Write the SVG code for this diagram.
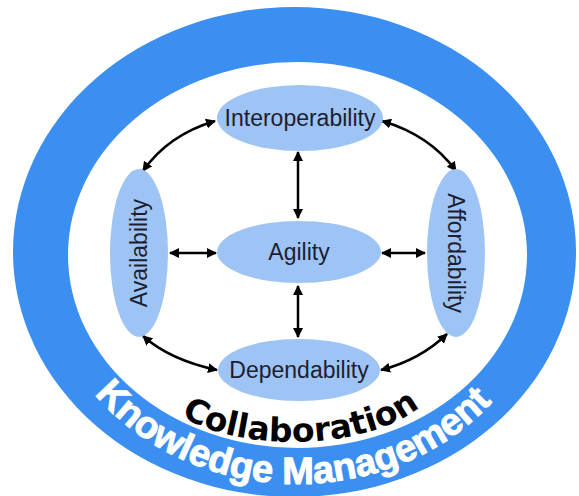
<svg xmlns="http://www.w3.org/2000/svg" width="579" height="496" viewBox="0 0 579 496">
<defs>
<style>
.node{fill:#9dc4f4;}
.lbl{font-family:"Liberation Sans",Arial,sans-serif;font-size:23px;fill:#1e1e30;text-anchor:middle;}
.conn{fill:none;stroke:#000;stroke-width:2.5;marker-start:url(#ah);marker-end:url(#ah);}
</style>
<marker id="ah" viewBox="0 0 10 10" refX="9" refY="5" markerWidth="4" markerHeight="4" orient="auto-start-reverse" markerUnits="strokeWidth">
<path d="M0,0 L10,5 L0,10 z" fill="#000"/>
</marker>
<path id="kmArc" d="M76.2,369.5 A255,229 0 0 0 517.8,369.5"/>
<path id="colArc" d="M170,407 C220,455 380,455 430,397"/>
</defs>
<rect width="579" height="496" fill="#fff"/>
<g id="ring">
<ellipse cx="294.5" cy="252" rx="281.5" ry="245" fill="#3a8ff0"/>
<ellipse cx="297.5" cy="255" rx="229.5" ry="193" fill="#fff"/>
<text font-family="'Liberation Sans',Arial,sans-serif" font-weight="bold" font-size="38" fill="#fff" stroke="#fff" stroke-width="1" text-anchor="middle"><textPath href="#kmArc" startOffset="49%">Knowledge Management</textPath></text>
<text font-family="'DejaVu Sans',sans-serif" font-weight="bold" font-size="33" fill="#000" text-anchor="middle"><textPath href="#colArc" startOffset="50%">Collaboration</textPath></text>
</g>
<g id="connectors">
<path class="conn" d="M215,121 Q168,135 143,171"/>
<path class="conn" d="M382,121 Q430,135 456,171"/>
<path class="conn" d="M143,336 Q170,360 217,370"/>
<path class="conn" d="M447,334 Q420,360 381,370"/>
<path class="conn" d="M298,152 L298,218"/>
<path class="conn" d="M298,286 L298,337"/>
<path class="conn" d="M170,253 L216,253"/>
<path class="conn" d="M382,253 L425,253"/>
</g>
<g id="interoperability">
<ellipse class="node" cx="300" cy="118" rx="83" ry="33"/>
<text class="lbl" x="300" y="126">Interoperability</text>
</g>
<g id="agility">
<ellipse class="node" cx="299" cy="252" rx="82" ry="31"/>
<text class="lbl" x="299" y="260">Agility</text>
</g>
<g id="dependability">
<ellipse class="node" cx="299" cy="370" rx="81" ry="31"/>
<text class="lbl" x="299" y="378">Dependability</text>
</g>
<g id="availability">
<ellipse class="node" cx="139" cy="253" rx="29" ry="84"/>
<text class="lbl" transform="translate(139,253) rotate(-90)" x="0" y="8">Availability</text>
</g>
<g id="affordability">
<ellipse class="node" cx="456" cy="253" rx="29" ry="84"/>
<text class="lbl" transform="translate(456,253) rotate(90)" x="0" y="8">Affordability</text>
</g>
</svg>
